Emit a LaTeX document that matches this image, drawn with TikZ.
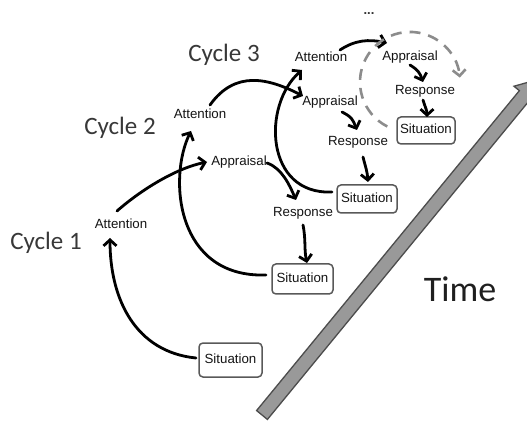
\documentclass[tikz,border=0pt]{standalone}
\usepackage{fontspec}
\setmainfont{Liberation Sans}
\newfontfamily\cyclefont{Carlito}
\usetikzlibrary{arrows.meta}
\begin{document}
\begin{tikzpicture}[x=1pt,y=1pt,
  lbl/.style={inner sep=1pt, font=\fontsize{13.3}{15}\selectfont, text height=9.5pt, text depth=2.5pt, text=black!92},
  sitbox/.style={lbl, draw=black!65, line width=1.5pt, rounded corners=4pt, inner sep=2pt},
  cyc/.style={inner sep=0pt, font=\cyclefont\fontsize{25}{28}\selectfont, text=black!78},
  conn/.style={line width=2.8pt, line cap=round, -{Straight Barb[length=6pt,width=13pt]}},
  dashconn/.style={line width=2.6pt, draw=black!45, dash pattern=on 11pt off 8pt, -{Straight Barb[length=6pt,width=13pt]}},
  timebar/.style={fill=black!40, draw=black!70, line width=1.3pt, line join=miter}]
\useasboundingbox (0,0) rectangle (527,423);
\clip (0,0) rectangle (527,423);

% time bar
\begin{scope}[shift={(262,8)}, rotate=50.6]
  \draw[timebar] (0,-7) -- (414,-7) -- (414,-14) -- (434,0) -- (414,14) -- (414,7) -- (0,7) -- cycle;
\end{scope}

% labels
\node[cyc] (c3) at (224,368) {Cycle 3};
\node[cyc] (c2) at (120,295) {Cycle 2};
\node[cyc] (c1) at (46,180) {Cycle 1};
\node[inner sep=0pt, font=\cyclefont\fontsize{36}{40}\selectfont, text=black!88] (time) at (460,134) {Time};
\node[inner sep=0pt, font=\bfseries\fontsize{13}{15}\selectfont, text=black!80] (dots) at (369,409) {...};

% nodes
\node[lbl] (att1) at (121,198) {Attention};
\node[lbl] (att2) at (200,308) {Attention};
\node[lbl] (att3) at (321,365) {Attention};
\node[lbl] (app2) at (239,261) {Appraisal};
\node[lbl] (app3) at (330,321) {Appraisal};
\node[lbl] (app4) at (410,366) {Appraisal};
\node[lbl] (resp2) at (303,210) {Response};
\node[lbl] (resp3) at (358,281) {Response};
\node[lbl] (resp4) at (425,332) {Response};
\node[sitbox, minimum width=63pt, minimum height=34pt] (sit1) at (230.5,63) {Situation};
\node[sitbox, minimum width=61pt, minimum height=30pt] (sit2) at (302.5,144) {Situation};
\node[sitbox, minimum width=60pt, minimum height=28pt] (sit3) at (367,224) {Situation};
\node[sitbox, minimum width=58pt, minimum height=27pt] (sit4) at (426,292.5) {Situation};

% connectors
\draw[conn] ([shift={(-34.5,2)}]sit1.center) .. controls +(-60,6) and +(0,-62) .. ([shift={(-11,-13)}]att1.center);
\draw[conn] ([shift={(-4,14)}]att1.center) .. controls +(25,22) and +(-30,-6) .. ([shift={(-32,0)}]app2.center);
\draw[conn] ([shift={(28,-1)}]app2.center) .. controls +(15,-5) and +(-6,14) .. ([shift={(-7,13)}]resp2.center);
\draw[conn] ([shift={(0,-12)}]resp2.center) .. controls +(3,-15) and +(-3,14) .. ([shift={(4.5,16)}]sit2.center);
\draw[conn] ([shift={(-36.5,4)}]sit2.center) .. controls +(-90,-3) and +(-23,-47) .. ([shift={(-9,-16)}]att2.center);
\draw[conn] ([shift={(10,10)}]att2.center) .. controls +(25,35) and +(-35,18) .. ([shift={(-27,6)}]app3.center);
\draw[conn] ([shift={(12,-10)}]app3.center) .. controls +(10,-5) and +(-4,10) .. ([shift={(-1,12)}]resp3.center);
\draw[conn] ([shift={(5,-15)}]resp3.center) .. controls +(3,-12) and +(-1,12) .. ([shift={(1,17)}]sit3.center);
\draw[conn] ([shift={(-35,7)}]sit3.center) .. controls +(-67,-3) and +(-40,-35) .. ([shift={(-19,-12)}]att3.center);
\draw[conn] ([shift={(19,8)}]att3.center) .. controls +(15,10) and +(-18,4) .. ([shift={(-23,14)}]app4.center);
\draw[conn] ([shift={(0,-8)}]app4.center) .. controls +(8,-5) and +(-3,9) .. ([shift={(-2,9)}]resp4.center);
\draw[conn] ([shift={(-2,-9)}]resp4.center) .. controls +(2,-7) and +(0,7) .. ([shift={(1,13.5)}]sit4.center);
\draw[dashconn] ([shift={(-38.7,4)}]sit4.center) arc[start angle=243, end angle=5, radius=50];
\end{tikzpicture}
\end{document}
